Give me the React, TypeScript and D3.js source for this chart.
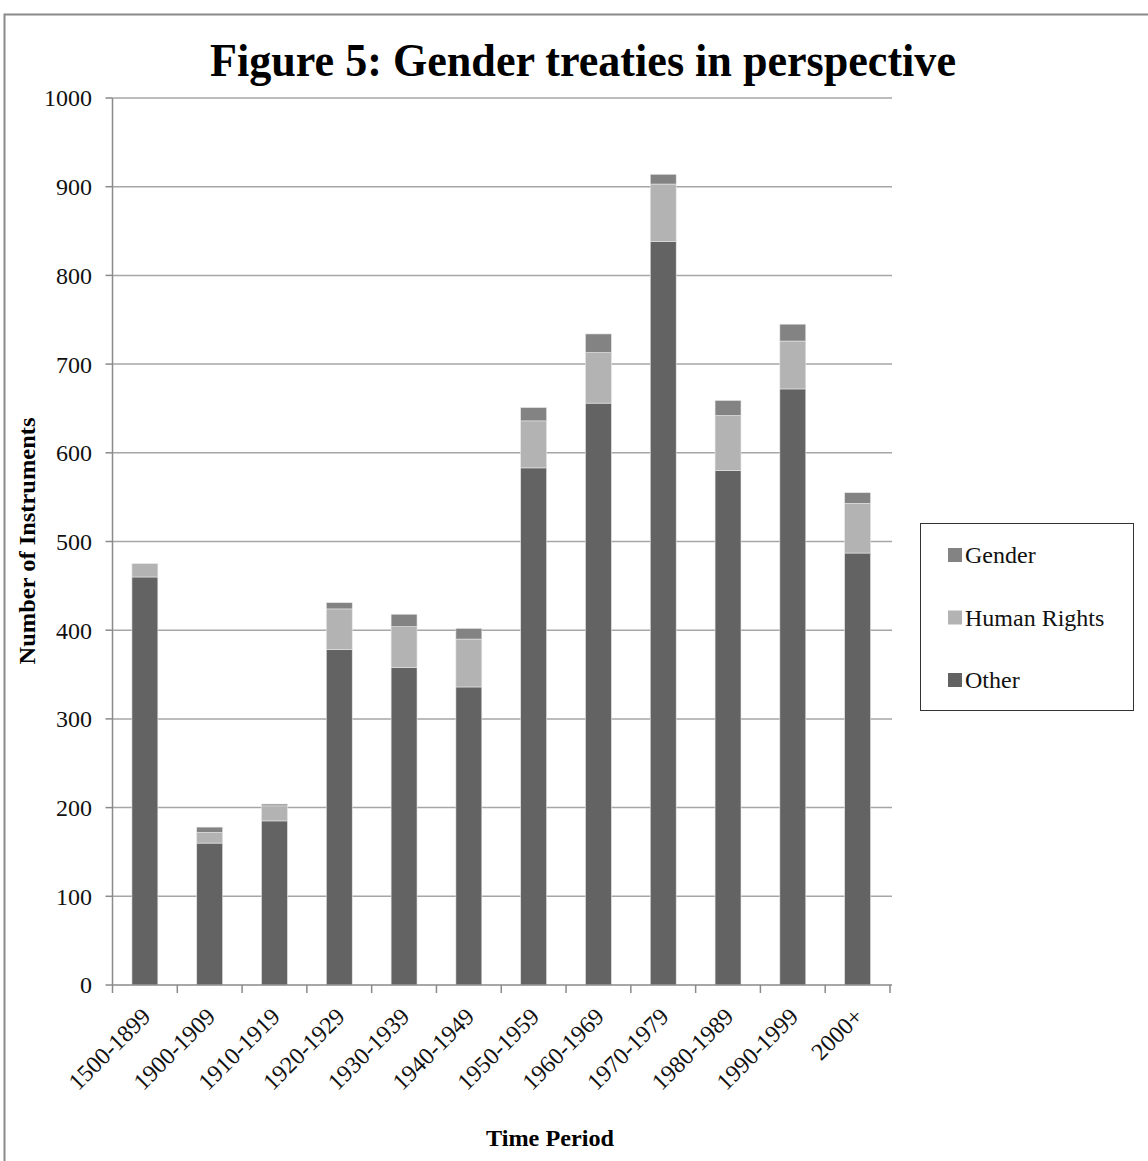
import React from "react";
import * as d3 from "d3";

// Time periods on the x axis
const periods = [
  "1500-1899", "1900-1909", "1910-1919", "1920-1929", "1930-1939", "1940-1949",
  "1950-1959", "1960-1969", "1970-1979", "1980-1989", "1990-1999", "2000+",
];
// Stacked series, bottom to top
const otherValues = [460, 160, 185, 378, 358, 336, 583, 656, 838, 580, 672, 487];
const humanRightsValues = [15, 12, 17, 46, 46, 54, 53, 57, 65, 62, 54, 56];
const genderValues = [0, 6, 2, 7, 14, 12, 15, 21, 11, 17, 19, 12];
const yTicks = [0, 100, 200, 300, 400, 500, 600, 700, 800, 900, 1000];

const seriesNames = ["Other", "Human Rights", "Gender"];
const seriesColors: Record<string, string> = {
  Other: "#636363",
  "Human Rights": "#b3b3b3",
  Gender: "#838383",
};
const legendOrder = ["Gender", "Human Rights", "Other"];

const FONT = "'Liberation Serif', 'Times New Roman', serif";

export default function App() {
  const W = 1148;
  const H = 1161;
  const left = 112.5;
  const right = 890;
  const top = 98;
  const bottom = 985;

  const x = d3.scaleBand<string>().domain(periods).range([left, right]).paddingInner(0.6).paddingOuter(0.3);
  const band = d3.scaleBand<string>().domain(periods).range([left, right]);
  const y = d3.scaleLinear().domain([0, 1000]).range([bottom, top]);

  const rows = periods.map((p, i) => ({
    period: p,
    Other: otherValues[i],
    "Human Rights": humanRightsValues[i],
    Gender: genderValues[i],
  }));
  const stacked = d3.stack<any>().keys(seriesNames)(rows);

  const tickXs = periods.map((p) => band(p)!).concat([right]);

  return (
    <svg
      width={W}
      height={H}
      style={{ position: "absolute", left: 0, top: 0, background: "#fff" }}
      fontFamily={FONT}
    >
      {/* outer frame */}
      <rect x={4.5} y={14.5} width={W + 10} height={H + 10} fill="none" stroke="#8a8a8a" strokeWidth={2} />

      <text
        x={583}
        y={76}
        textAnchor="middle"
        fontSize={46}
        fontWeight="bold"
        textLength={746}
        lengthAdjust="spacingAndGlyphs"
      >
        Figure 5:  Gender treaties in perspective
      </text>

      {/* gridlines and y ticks */}
      {yTicks.map((t) => (
        <g key={t}>
          {t > 0 && (
            <line x1={left} x2={right + 2} y1={y(t)} y2={y(t)} stroke="#a6a6a6" strokeWidth={1.5} />
          )}
          <line x1={left - 7} x2={left} y1={y(t)} y2={y(t)} stroke="#8a8a8a" strokeWidth={1.5} />
          <text x={92} y={y(t)} dy="0.35em" textAnchor="end" fontSize={24} fill="#111">
            {t}
          </text>
        </g>
      ))}

      {/* bars */}
      {stacked.map((s) => (
        <g key={s.key} fill={seriesColors[s.key]}>
          {s.map((d, i) =>
            d[1] - d[0] > 0 ? (
              <rect
                key={i}
                x={x(periods[i])!}
                width={x.bandwidth()}
                y={y(d[1])}
                height={y(d[0]) - y(d[1])}
                stroke="#e6e6e6"
                strokeWidth={0.6}
              />
            ) : null
          )}
        </g>
      ))}

      {/* axes */}
      <line x1={left} x2={left} y1={top} y2={bottom} stroke="#8a8a8a" strokeWidth={1.5} />
      <line x1={left} x2={right + 2} y1={bottom} y2={bottom} stroke="#8a8a8a" strokeWidth={1.5} />
      {tickXs.map((tx, i) => (
        <line key={i} x1={tx} x2={tx} y1={bottom} y2={bottom + 8} stroke="#8a8a8a" strokeWidth={1.5} />
      ))}

      {/* x labels */}
      {periods.map((p) => {
        const cx = band(p)! + band.bandwidth() / 2 + 7;
        const cy = 1018;
        return (
          <text
            key={p}
            x={cx}
            y={cy}
            textAnchor="end"
            fontSize={24}
            fill="#111"
            transform={`rotate(-45 ${cx} ${cy})`}
          >
            {p}
          </text>
        );
      })}

      <text
        x={550}
        y={1146}
        textAnchor="middle"
        fontSize={24}
        fontWeight="bold"
        textLength={128}
        lengthAdjust="spacingAndGlyphs"
      >
        Time Period
      </text>
      <text
        x={0}
        y={0}
        transform="translate(35 541) rotate(-90)"
        textAnchor="middle"
        fontSize={24}
        fontWeight="bold"
        textLength={247}
        lengthAdjust="spacingAndGlyphs"
      >
        Number of Instruments
      </text>

      {/* legend */}
      <rect x={920.5} y={523.5} width={213} height={187} fill="#fff" stroke="#333" strokeWidth={1} />
      {legendOrder.map((name, i) => {
        const ly = 555 + i * 62.5;
        return (
          <g key={name}>
            <rect x={948} y={ly - 7} width={14} height={14} fill={seriesColors[name]} />
            <text x={965} y={ly} dy="0.35em" fontSize={24} fill="#111">
              {name}
            </text>
          </g>
        );
      })}
    </svg>
  );
}
